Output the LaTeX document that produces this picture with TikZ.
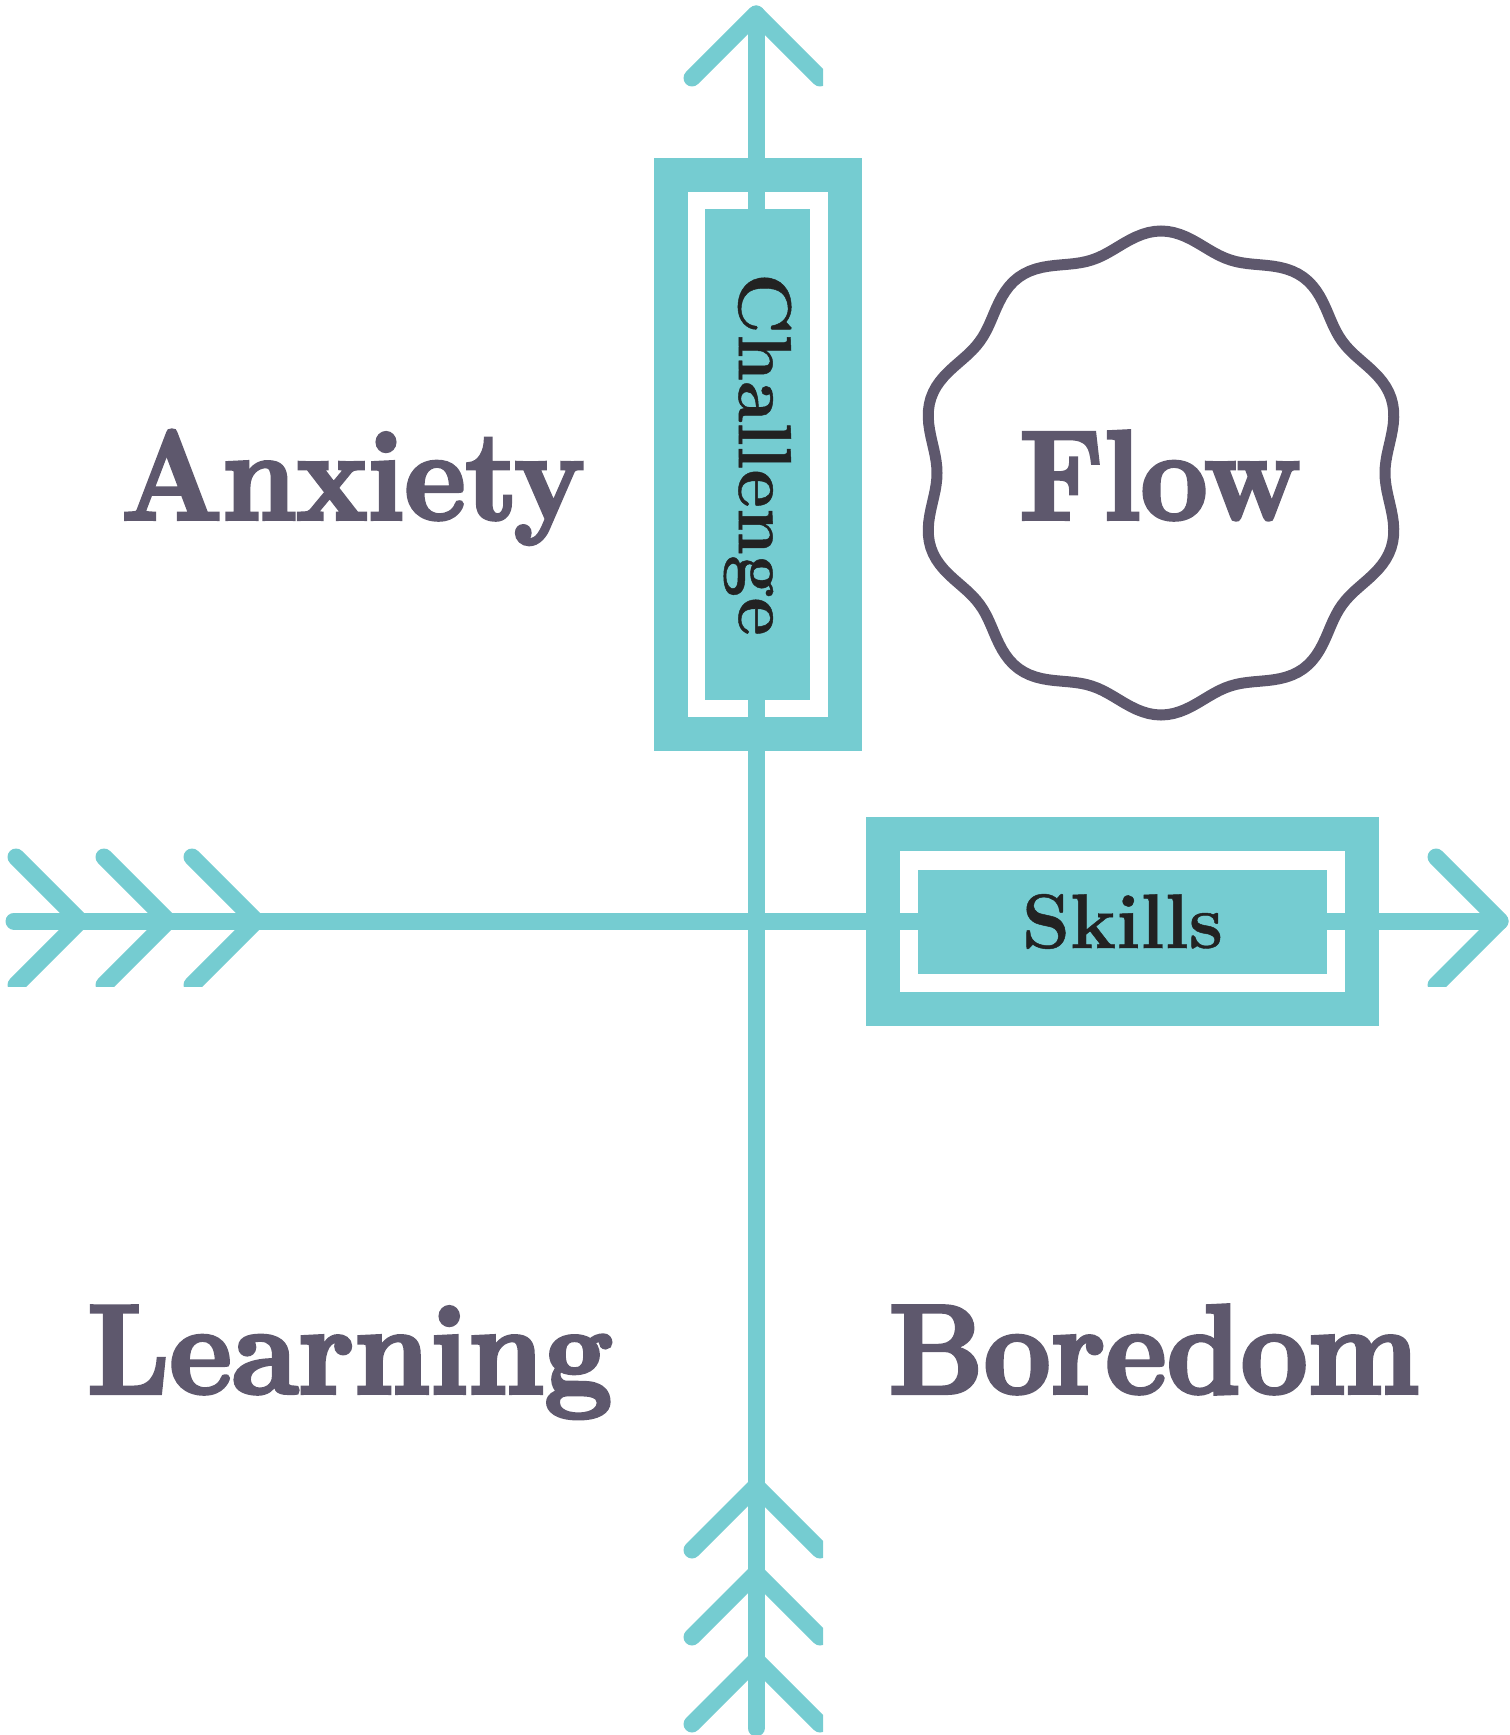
\documentclass[tikz,border=0pt]{standalone}
\usepackage{fontspec}
\usepackage{tikz}
\newfontfamily\fatfont[BoldFeatures={FakeBold=3.2}]{Latin Modern Roman}
\newfontfamily\boxfont[BoldFeatures={FakeBold=0.6}]{Latin Modern Roman}
\definecolor{tealaxis}{HTML}{75CCD1}
\definecolor{plumtext}{HTML}{5E586D}
\definecolor{inktext}{HTML}{222222}
\tikzset{
  axisline/.style={line width=0.17cm, tealaxis},
  chevron/.style={line width=0.17cm, tealaxis, line cap=round, line join=round},
  framebox/.style={draw=tealaxis, line width=0.34cm, fill=white, inner sep=0pt},
  labelbox/.style={fill=tealaxis, text=inktext, inner sep=0pt, font=\boxfont\bfseries\fontsize{22}{24}\selectfont},
  quadrant/.style={text=plumtext, inner sep=0pt, anchor=base, xscale=0.94, font=\fatfont\bfseries\fontsize{36}{40}\selectfont}
}
\begin{document}
\begin{tikzpicture}
\useasboundingbox (0,0) rectangle (15.09,-17.35);

% Wavy circle round Flow
\draw[plumtext, line width=0.11cm] plot[domain=0:360, samples=241]
  ({11.61+(2.33+0.09*cos(10*(\x-90)))*cos(\x)}, {-4.73+(2.33+0.09*cos(10*(\x-90)))*sin(\x)}) -- cycle;

% Frames
\node[framebox, minimum width=1.74cm, minimum height=5.59cm] (challengeframe) at (7.575,-4.545) {};
\node[framebox, minimum width=4.79cm, minimum height=1.75cm] (skillsframe) at (11.225,-9.215) {};

% Axis ends
\coordinate (xstart) at (0.14,-9.21);
\coordinate (xend) at (15.0,-9.21);
\coordinate (ystart) at (7.56,-17.28);
\coordinate (yend) at (7.56,-0.14);

% Draw axes
\draw[axisline, line cap=round] (xstart) -- (xend);
\draw[axisline, line cap=round] (ystart) -- (yend);

% Arrow heads
\begin{scope}
\clip (0,-0.0) rectangle (8.23,-17.35);
\foreach \y in {0.14, 14.86, 15.73, 16.6} {
    \draw[chevron] (6.92,-\y-0.64) -- (7.56,-\y) -- (8.2,-\y-0.64);
}
\end{scope}
\begin{scope}
\clip (0,0) rectangle (15.09,-9.86);
\foreach \x in {0.8, 1.68, 2.56, 15.0} {
    \draw[chevron] (\x-0.64,-8.57) -- (\x,-9.21) -- (\x-0.64,-9.85);
}
\end{scope}

% Labels on the axes
\node[labelbox, rotate=-90, minimum width=4.9cm, minimum height=1.05cm] (challenge) at (challengeframe) {\fontsize{21.4}{24}\selectfont Challenge};
\node[labelbox, minimum width=4.09cm, minimum height=1.04cm] (skills) at (skillsframe) {Skills};

% Quadrants
\node[quadrant] (anxiety) at (3.53,-5.19) {Anxiety};
\node[quadrant] (flow) at (11.6,-5.19) {Flow};
\node[quadrant, xscale=1.022] (learning) at (3.5,-13.93) {Learning};
\node[quadrant] (boredom) at (11.54,-13.93) {Boredom};
\end{tikzpicture}
\end{document}
